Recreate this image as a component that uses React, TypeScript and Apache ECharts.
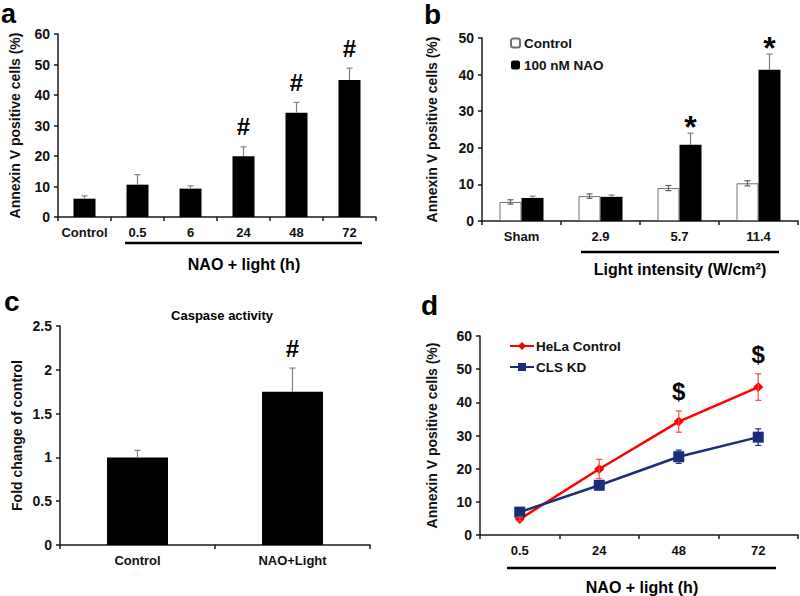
import React, { useEffect, useRef } from "react";
import * as echarts from "echarts";

const FONT = '"Liberation Sans", Arial, Helvetica, sans-serif';

// Panel a
const aCats = ["Control", "0.5", "6", "24", "48", "72"];
const aMean = [6.0, 10.6, 9.3, 19.9, 34.2, 44.9];
const aErr = [0.9, 3.3, 0.9, 3.1, 3.4, 3.9];
const aSig = ["", "", "", "#", "#", "#"];

// Panel b
const bCats = ["Sham", "2.9", "5.7", "11.4"];
const bCtrl = [5.2, 6.8, 9.0, 10.3];
const bCtrlErr = [0.6, 0.6, 0.7, 0.7];
const bNao = [6.3, 6.6, 20.8, 41.3];
const bNaoErr = [0.5, 0.5, 3.2, 4.3];
const bSig = ["", "", "*", "*"];

// Panel c
const cCats = ["Control", "NAO+Light"];
const cMean = [1.0, 1.75];
const cErr = [0.08, 0.27];
const cSig = ["", "#"];

// Panel d
const dCats = ["0.5", "24", "48", "72"];
const dHela = [4.8, 19.9, 34.2, 44.6];
const dHelaErr = [0.6, 2.9, 3.2, 4.0];
const dCls = [6.9, 15.0, 23.6, 29.5];
const dClsErr = [0.8, 1.3, 2.0, 2.5];
const dSig = ["", "", "$", "$"];

type ErrOpts = {
  offset: number;
  both: boolean;
  color: string;
  cap: number;
  sigs?: string[];
  sigFont?: string;
  sigGap?: number;
};

function errSeries(idx: number, means: number[], errs: number[], o: ErrOpts) {
  return {
    type: "custom",
    xAxisIndex: idx,
    yAxisIndex: idx,
    z: 5,
    silent: true,
    encode: { x: 0, y: 1 },
    data: means.map((m, i) => [i, m, errs[i]]),
    renderItem: (params: any, api: any) => {
      const i = params.dataIndex;
      const c = api.value(0);
      const m = api.value(1);
      const e = api.value(2);
      const top = api.coord([c, m + e]);
      const bot = api.coord([c, o.both ? m - e : m]);
      const x = top[0] + o.offset;
      const st = { stroke: o.color, lineWidth: 1.2 };
      const children: any[] = [
        { type: "line", shape: { x1: x, y1: top[1], x2: x, y2: bot[1] }, style: st },
        { type: "line", shape: { x1: x - o.cap, y1: top[1], x2: x + o.cap, y2: top[1] }, style: st },
      ];
      if (o.both) {
        children.push({
          type: "line",
          shape: { x1: x - o.cap, y1: bot[1], x2: x + o.cap, y2: bot[1] },
          style: st,
        });
      }
      if (o.sigs && o.sigs[i]) {
        children.push({
          type: "text",
          x,
          y: top[1] - (o.sigGap || 0),
          style: {
            text: o.sigs[i],
            font: o.sigFont,
            fill: "#000",
            align: "center",
            verticalAlign: "middle",
          },
        });
      }
      return { type: "group", children };
    },
  };
}

function xAx(gi: number, cats: string[]) {
  return {
    gridIndex: gi,
    type: "category",
    data: cats,
    axisLine: { lineStyle: { color: "#1a1a1a", width: 1.5 } },
    axisTick: { show: true, length: 4, lineStyle: { color: "#1a1a1a", width: 1.5 } },
    axisLabel: { interval: 0, color: "#111", fontWeight: "bold", fontSize: 13, fontFamily: FONT, margin: 9 },
    splitLine: { show: false },
  };
}

function yAx(gi: number, max: number, interval: number, name: string, gap: number) {
  return {
    gridIndex: gi,
    type: "value",
    min: 0,
    max,
    interval,
    name,
    nameLocation: "middle",
    nameGap: gap,
    nameTextStyle: { color: "#111", fontWeight: "bold", fontSize: 14, fontFamily: FONT },
    axisLine: { show: true, lineStyle: { color: "#1a1a1a", width: 1.5 } },
    axisTick: { show: true, length: 4, lineStyle: { color: "#1a1a1a", width: 1.5 } },
    axisLabel: { color: "#111", fontWeight: "bold", fontSize: 14, fontFamily: FONT, margin: 8 },
    splitLine: { show: false },
  };
}

function txt(x: number, y: number, text: string, size: number, align = "left", vAlign = "middle", lineHeight?: number) {
  const style: any = {
    text,
    font: `bold ${size}px ${FONT}`,
    fill: "#000",
    align,
    verticalAlign: vAlign,
  };
  if (lineHeight) style.lineHeight = lineHeight;
  return { type: "text", x, y, style };
}

function hline(x1: number, x2: number, y: number) {
  return {
    type: "line",
    shape: { x1, y1: y, x2, y2: y },
    style: { stroke: "#000", lineWidth: 2.5 },
  };
}

export default function App() {
  const ref = useRef<HTMLDivElement>(null);
  useEffect(() => {
    document.body.style.margin = "0";
    const chart = echarts.init(ref.current!, null, { renderer: "svg" });
    const hashFont = `bold 24px ${FONT}`;
    const option: any = {
      animation: false,
      backgroundColor: "#fff",
      textStyle: { fontFamily: FONT },
      grid: [
        { left: 58, top: 34, width: 318, height: 183 },
        { left: 482, top: 38, width: 316, height: 183 },
        { left: 60, top: 326, width: 310, height: 219 },
        { left: 480, top: 336, width: 318, height: 199 },
      ],
      xAxis: [xAx(0, aCats), xAx(1, bCats), xAx(2, cCats), xAx(3, dCats)],
      yAxis: [
        yAx(0, 60, 10, "Annexin V positive cells (%)", 36),
        yAx(1, 50, 10, "Annexin V positive cells (%)", 43),
        yAx(2, 2.5, 0.5, "Fold change of control", 36),
        yAx(3, 60, 10, "Annexin V positive cells (%)", 41),
      ],
      legend: [
        {
          data: ["Control", "100 nM NAO"],
          orient: "vertical",
          left: 510,
          top: 36,
          padding: 0,
          itemWidth: 9,
          itemHeight: 9,
          itemGap: 8,
          textStyle: { fontWeight: "bold", fontSize: 13.5, color: "#111", fontFamily: FONT, padding: [0, 0, 0, -1] },
        },
        {
          data: ["HeLa Control", "CLS KD"],
          orient: "vertical",
          left: 509,
          top: 339,
          padding: 0,
          itemWidth: 24,
          itemHeight: 10,
          itemGap: 7,
          textStyle: { fontWeight: "bold", fontSize: 13.5, color: "#111", fontFamily: FONT, padding: [0, 0, 0, -3] },
        },
      ],
      series: [
        {
          type: "bar",
          xAxisIndex: 0,
          yAxisIndex: 0,
          data: aMean,
          barWidth: 22,
          itemStyle: { color: "#000" },
        },
        errSeries(0, aMean, aErr, {
          offset: 0,
          both: false,
          color: "#808080",
          cap: 3,
          sigs: aSig,
          sigFont: hashFont,
          sigGap: 20,
        }),
        {
          name: "Control",
          type: "bar",
          xAxisIndex: 1,
          yAxisIndex: 1,
          data: bCtrl,
          barWidth: 22,
          barGap: "0%",
          itemStyle: { color: "#fff", borderColor: "#707070", borderWidth: 1 },
        },
        {
          name: "100 nM NAO",
          type: "bar",
          xAxisIndex: 1,
          yAxisIndex: 1,
          data: bNao,
          barWidth: 22,
          barGap: "0%",
          itemStyle: { color: "#000" },
        },
        errSeries(1, bCtrl, bCtrlErr, { offset: -11, both: true, color: "#606060", cap: 3 }),
        errSeries(1, bNao, bNaoErr, {
          offset: 11,
          both: false,
          color: "#808080",
          cap: 3,
          sigs: bSig,
          sigFont: `bold 32px ${FONT}`,
          sigGap: 6,
        }),
        {
          type: "bar",
          xAxisIndex: 2,
          yAxisIndex: 2,
          data: cMean,
          barWidth: 61,
          itemStyle: { color: "#000" },
        },
        errSeries(2, cMean, cErr, {
          offset: 0,
          both: false,
          color: "#808080",
          cap: 3,
          sigs: cSig,
          sigFont: hashFont,
          sigGap: 20,
        }),
        {
          name: "HeLa Control",
          type: "line",
          xAxisIndex: 3,
          yAxisIndex: 3,
          data: dHela,
          symbol: "diamond",
          symbolSize: 10,
          z: 3,
          lineStyle: { color: "#ff0000", width: 2.5 },
          itemStyle: { color: "#ff0000" },
        },
        {
          name: "CLS KD",
          type: "line",
          xAxisIndex: 3,
          yAxisIndex: 3,
          data: dCls,
          symbol: "rect",
          symbolSize: 11,
          z: 3,
          lineStyle: { color: "#1b2d78", width: 2.5 },
          itemStyle: { color: "#1b2d78" },
        },
        errSeries(3, dHela, dHelaErr, {
          offset: 0,
          both: true,
          color: "#ff4a4a",
          cap: 3,
          sigs: dSig,
          sigFont: `bold 24px ${FONT}`,
          sigGap: 19,
        }),
        errSeries(3, dCls, dClsErr, { offset: 0, both: true, color: "#1b2d78", cap: 3 }),
      ],
      graphic: [
        txt(1, 14, "a", 27, "left", "middle", 18),
        txt(424, 14, "b", 28, "left", "middle", 18),
        txt(4, 301, "c", 28, "left", "middle", 18),
        txt(421, 305, "d", 28, "left", "middle", 18),
        hline(125, 362, 243),
        txt(244, 264, "NAO + light (h)", 16, "center"),
        hline(581, 779, 252),
        txt(680, 269, "Light intensity (W/cm²)", 16, "center"),
        txt(222, 315, "Caspase activity", 13, "center"),
        hline(507, 776, 568),
        txt(642, 587, "NAO + light (h)", 16, "center"),
      ],
    };
    chart.setOption(option);
    return () => chart.dispose();
  }, []);
  return <div ref={ref} style={{ width: 800, height: 596 }} />;
}
